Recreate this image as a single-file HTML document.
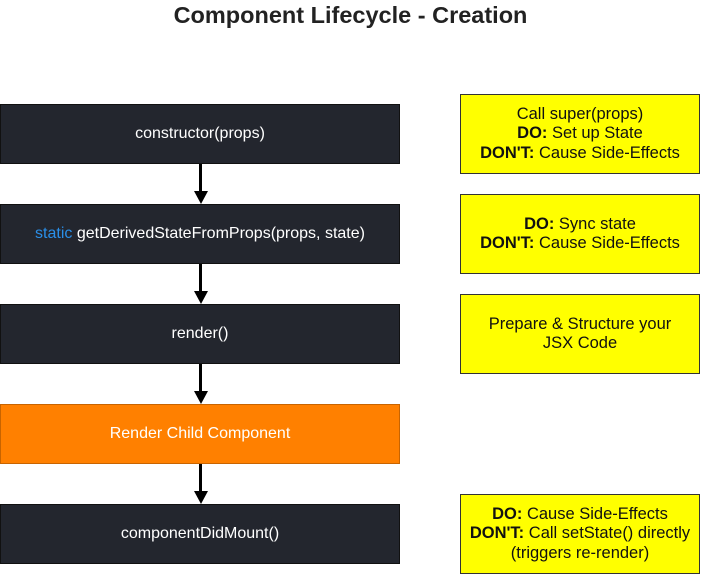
<!DOCTYPE html>
<html><head><style>
body{margin:0;width:701px;height:575px;background:#fff;position:relative;font-family:"Liberation Sans",sans-serif;overflow:hidden}
.t{position:absolute;left:0;width:701px;top:2px;text-align:center;font-weight:bold;font-size:23.5px;color:#222}
.d,.y{position:absolute;box-sizing:border-box;display:flex;align-items:center;justify-content:center;text-align:center;line-height:19.5px}
.d{left:0;width:400px;height:60px;background:#23262e;color:#fff;border:1px solid #111;font-size:16px}
.o{background:#ff8000;border-color:#c86400}
.y{left:460px;width:240px;height:80px;background:#ffff00;border:1px solid #333;color:#111;font-size:16.5px}
.l{position:absolute;left:199px;width:3px;background:#000}
.a{position:absolute;left:194px;width:0;height:0;border-left:7px solid transparent;border-right:7px solid transparent;border-top:13px solid #000}
</style></head><body>
<div class="t">Component Lifecycle - Creation</div>
<div class="d" style="top:104px">constructor(props)</div>
<div class="d" style="top:204px"><span><span style="color:#2a8fe8">static</span> getDerivedStateFromProps(props, state)</span></div>
<div class="d" style="top:304px">render()</div>
<div class="d o" style="top:404px">Render Child Component</div>
<div class="d" style="top:504px">componentDidMount()</div>
<div class="l" style="top:164px;height:28px"></div><div class="a" style="top:191px"></div>
<div class="l" style="top:264px;height:28px"></div><div class="a" style="top:291px"></div>
<div class="l" style="top:364px;height:28px"></div><div class="a" style="top:391px"></div>
<div class="l" style="top:464px;height:28px"></div><div class="a" style="top:491px"></div>
<div class="y" style="top:94px"><span>Call super(props)<br><b>DO:</b> Set up State<br><b>DON'T:</b> Cause Side-Effects</span></div>
<div class="y" style="top:194px"><span><b>DO:</b> Sync state<br><b>DON'T:</b> Cause Side-Effects</span></div>
<div class="y" style="top:294px"><span>Prepare &amp; Structure your<br>JSX Code</span></div>
<div class="y" style="top:494px"><span><b>DO:</b> Cause Side-Effects<br><b>DON'T:</b> Call setState() directly<br>(triggers re-render)</span></div>
</body></html>
